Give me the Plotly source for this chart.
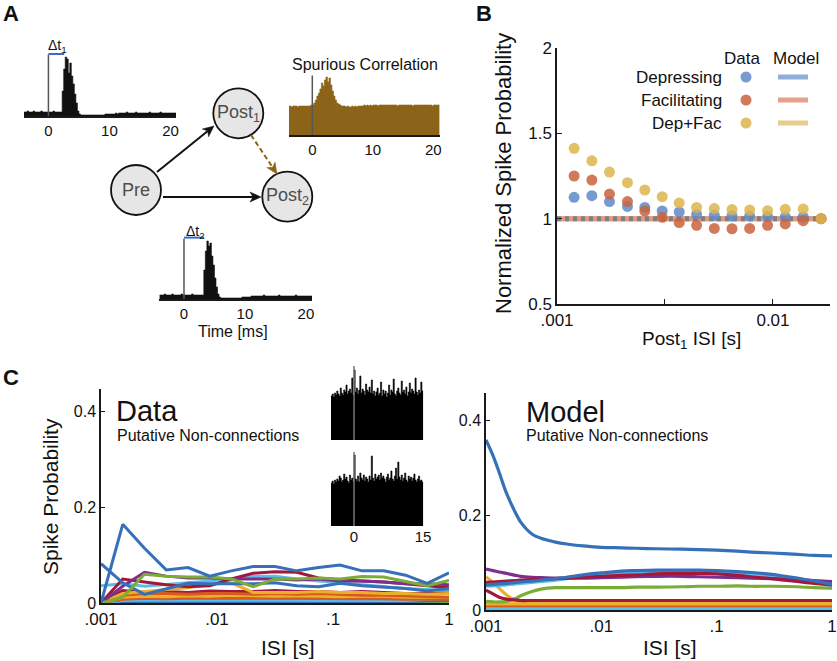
import math
import numpy as np
import plotly.graph_objects as go

W, H = 837, 661
FONT = "Liberation Sans, Arial, Helvetica, sans-serif"

# ---------------- Panel A: cross-correlograms (0.25 ms bins from -4 ms) ----------------
HIST_START_MS = -4.0
HIST_BIN_MS = 0.25
TIME_TICKS = [0, 10, 20]
HIST1_COUNTS = [4, 4, 5, 4, 4, 4, 5, 4, 4, 4, 4, 5, 4, 4, 4, 4,
                4, 4, 4, 5, 4, 4, 4, 4, 4,
                25, 47, 59, 57, 43, 53, 40, 32, 22, 13,
                5,
                2, 1, 1, 1, 1, 1, 1, 1, 1, 1, 1, 1, 1, 1, 1, 1, 1, 2, 2, 2,
                2, 2, 2, 2, 3, 2, 3, 3,
                3, 3, 3, 4, 3, 3, 3, 3, 3, 4, 3, 3, 3, 3, 3, 3, 3, 3, 4, 3,
                3, 3, 3, 3, 3, 4, 3, 3, 3, 3, 3, 3, 3, 3, 3, 3]
HIST2_COUNTS = [4, 4, 4, 5, 4, 4, 4, 4, 5, 4, 4, 4, 4, 4, 5, 4,
                4, 4, 4, 4, 4, 5, 4, 4, 4, 4, 4, 4, 4,
                29, 48, 58, 53, 56, 43, 34, 21, 12, 5,
                2, 1, 1, 1, 1, 1, 1, 1, 1, 1, 1, 1, 1, 1, 1, 2, 2,
                2, 2, 2, 2, 3, 3, 3, 3,
                3, 3, 3, 3, 4, 3, 3, 3, 3, 3, 3, 3, 3, 3, 4, 3, 3, 3,
                3, 3, 3, 3, 3, 3, 3, 4, 3, 3, 3, 3, 3, 3, 3, 3, 3, 3]
SPURIOUS_COUNTS = [29, 29, 28, 29, 29, 29, 28, 29, 29, 29, 29, 29, 29, 29, 29, 30,
                   30, 32,
                   35, 39, 42, 46, 52, 49, 55, 58, 53, 57, 50, 44, 39, 35, 32, 31,
                   30, 29, 29, 29, 28, 29, 28, 28, 29, 28, 29, 28, 29, 29,
                   29, 29, 30, 29, 30, 29, 30, 29, 30, 30, 30, 29, 30, 30, 30, 30,
                   30, 30, 30, 30, 30, 30, 30, 30, 29, 30, 30, 30, 30, 30, 30, 30,
                   30, 30, 29, 30, 30, 30, 30, 30, 30, 30, 30, 30, 30, 30, 30, 29,
                   30, 30, 30, 30]
DT1_MS = 2.6
DT2_MS = 3.3

# ---------------- Panel B ----------------
B_ISI = [0.0012, 0.00145, 0.00175, 0.00212, 0.00255, 0.00307, 0.00368, 0.00443,
         0.00535, 0.00646, 0.0078, 0.00944, 0.0114, 0.0138, 0.0167]
B_DEPRESSING = [1.125, 1.135, 1.100, 1.072, 1.066, 1.045, 1.039, 1.025, 1.020,
                1.016, 1.016, 1.012, 1.010, 1.010, 1.000]
B_FACILITATING = [1.250, 1.226, 1.144, 1.100, 1.045, 1.008, 0.977, 0.961, 0.943,
                  0.941, 0.943, 0.961, 0.969, 0.988, 1.000]
B_DEPFAC = [1.412, 1.339, 1.273, 1.211, 1.168, 1.129, 1.092, 1.066, 1.059, 1.053,
            1.051, 1.047, 1.055, 1.057, 1.000]
B_MODEL_ISI = [0.001, 0.0167]
B_MODEL_DEPRESSING = [1.0, 1.0]
B_MODEL_FACILITATING = [1.0, 1.0]
B_MODEL_DEPFAC = [1.0, 1.0]
B_XTICKS = [0.001, 0.00316, 0.01]
B_XTICKTEXT = [".001", " ", "0.01"]
B_YTICKS = [0.5, 1, 1.5, 2]

# ---------------- Panel C: data ----------------
C_ISI_DATA = [0.001, 0.00154, 0.00237, 0.00365, 0.00562, 0.00866, 0.0133, 0.0205, 0.0316,
              0.0487, 0.075, 0.115, 0.178, 0.274, 0.422, 0.649, 1.0]
D_BLUE_A = [0.0, 0.164, 0.114, 0.069, 0.074, 0.056, 0.067, 0.076, 0.076, 0.067, 0.074, 0.079, 0.067, 0.067, 0.058, 0.041, 0.063]
D_BLUE_B = [0.082, 0.042, 0.018, 0.030, 0.041, 0.040, 0.040, 0.040, 0.042, 0.036, 0.034, 0.041, 0.036, 0.033, 0.030, 0.025, 0.030]
D_GREEN_A = [0.0, 0.012, 0.060, 0.056, 0.054, 0.054, 0.050, 0.034, 0.050, 0.050, 0.052, 0.050, 0.055, 0.054, 0.045, 0.036, 0.047]
D_RED_A = [0.0, 0.050, 0.044, 0.038, 0.034, 0.036, 0.050, 0.062, 0.065, 0.064, 0.052, 0.048, 0.046, 0.044, 0.040, 0.036, 0.032]
D_PURPLE = [0.0, 0.035, 0.064, 0.056, 0.052, 0.052, 0.050, 0.050, 0.050, 0.048, 0.050, 0.046, 0.046, 0.044, 0.040, 0.040, 0.038]
D_LBLUE_A = [0.036, 0.040, 0.035, 0.038, 0.042, 0.046, 0.050, 0.055, 0.056, 0.050, 0.046, 0.042, 0.038, 0.034, 0.030, 0.028, 0.026]
D_YELLOW_A = [0.0, 0.020, 0.024, 0.028, 0.032, 0.039, 0.042, 0.022, 0.022, 0.022, 0.024, 0.022, 0.022, 0.020, 0.020, 0.018, 0.020]
D_ORANGE_A = [0.0, 0.016, 0.020, 0.020, 0.018, 0.020, 0.020, 0.018, 0.020, 0.018, 0.020, 0.018, 0.016, 0.016, 0.015, 0.014, 0.012]
D_RED_B = [0.0, 0.026, 0.022, 0.024, 0.022, 0.025, 0.024, 0.024, 0.026, 0.024, 0.024, 0.022, 0.024, 0.022, 0.020, 0.020, 0.022]
D_YELLOW_B = [0.0, 0.012, 0.014, 0.013, 0.015, 0.014, 0.016, 0.015, 0.014, 0.015, 0.014, 0.013, 0.014, 0.014, 0.012, 0.012, 0.012]
D_ORANGE_B = [0.0, 0.008, 0.010, 0.009, 0.010, 0.010, 0.009, 0.010, 0.010, 0.009, 0.010, 0.010, 0.009, 0.009, 0.008, 0.008, 0.008]
D_LBLUE_B = [0.0, 0.005, 0.006, 0.006, 0.005, 0.006, 0.006, 0.005, 0.006, 0.006, 0.005, 0.006, 0.006, 0.006, 0.005, 0.008, 0.010]
D_BLUE_C = [0.0, 0.003, 0.003, 0.002, 0.003, 0.003, 0.002, 0.003, 0.003, 0.002, 0.003, 0.003, 0.002, 0.003, 0.003, 0.004, 0.005]
D_GREEN_B = [0.0, 0.001, 0.001, 0.002, 0.001, 0.001, 0.001, 0.002, 0.001, 0.001, 0.001, 0.001, 0.002, 0.001, 0.001, 0.002, 0.002]

# inset correlograms (0.25 ms bins from -5 ms)
INSET_START_MS = -5.0
INSET_BIN_MS = 0.25
INSET_TICKS = [0, 15]
INSET_TOP = [44, 46, 43, 47, 45, 49, 46, 44, 52, 47, 45, 50, 48, 55, 46, 49, 51, 47, 62, 45,
             70, 48, 52, 46, 50, 64, 47, 51, 49, 45, 56, 50, 48, 53, 47, 60, 46, 49, 44, 48,
             52, 45, 47, 58, 44, 50, 46, 49, 43, 47, 55, 45, 50, 48, 61, 46, 44, 49, 52, 47,
             45, 59, 48, 50, 46, 53, 44, 48, 57, 47, 51, 49, 46, 62, 48, 45, 50, 47, 58, 49]
INSET_BOTTOM = [43, 45, 42, 46, 44, 47, 45, 50, 48, 44, 46, 52, 47, 49, 45, 43, 51, 46, 48, 44,
                71, 47, 45, 50, 44, 53, 48, 46, 51, 45, 49, 47, 44, 50, 46, 70, 48, 45, 52, 47,
                49, 51, 46, 53, 48, 50, 47, 44, 49, 52, 46, 48, 55, 47, 45, 50, 58, 47, 64, 49,
                46, 51, 45, 48, 53, 46, 44, 50, 47, 49, 45, 48, 52, 46, 44, 47, 50, 45, 46, 44]

# ---------------- Panel C: model ----------------
C_ISI_MODEL = [0.001, 0.00115, 0.0013, 0.0015, 0.0018, 0.002, 0.0025, 0.003, 0.004, 0.005, 0.007,
               0.01, 0.015, 0.02, 0.03, 0.05, 0.07, 0.1, 0.15, 0.2, 0.3, 0.5, 0.7, 1.0]
M_BLUE_A = [0.358, 0.325, 0.290, 0.247, 0.205, 0.185, 0.160, 0.151, 0.143, 0.139, 0.135, 0.132,
            0.131, 0.130, 0.129, 0.128, 0.127, 0.126, 0.124, 0.122, 0.120, 0.117, 0.115, 0.114]
M_BLUE_B = [0.053, 0.054, 0.055, 0.056, 0.058, 0.059, 0.061, 0.063, 0.066, 0.069, 0.074, 0.078,
            0.082, 0.083, 0.084, 0.084, 0.084, 0.083, 0.081, 0.079, 0.075, 0.067, 0.061, 0.054]
M_LBLUE_A = [0.050, 0.051, 0.052, 0.053, 0.055, 0.056, 0.058, 0.060, 0.063, 0.066, 0.071, 0.075,
             0.079, 0.080, 0.081, 0.081, 0.081, 0.080, 0.078, 0.076, 0.072, 0.064, 0.058, 0.051]
M_PURPLE = [0.086, 0.083, 0.080, 0.077, 0.073, 0.071, 0.069, 0.068, 0.067, 0.067, 0.067, 0.068,
            0.069, 0.070, 0.071, 0.071, 0.070, 0.069, 0.068, 0.067, 0.066, 0.064, 0.062, 0.060]
M_RED_A = [0.058, 0.059, 0.060, 0.061, 0.062, 0.063, 0.064, 0.065, 0.066, 0.067, 0.069, 0.071,
           0.073, 0.074, 0.076, 0.077, 0.077, 0.076, 0.073, 0.070, 0.066, 0.060, 0.056, 0.053]
M_RED_B = [0.042, 0.034, 0.027, 0.023, 0.021, 0.020, 0.020, 0.020, 0.020, 0.020, 0.020, 0.020,
           0.020, 0.020, 0.020, 0.020, 0.020, 0.020, 0.020, 0.020, 0.020, 0.020, 0.020, 0.020]
M_GREEN_A = [0.018, 0.017, 0.017, 0.018, 0.024, 0.030, 0.039, 0.044, 0.047, 0.047, 0.047, 0.047,
             0.047, 0.048, 0.048, 0.049, 0.050, 0.050, 0.051, 0.050, 0.050, 0.049, 0.047, 0.046]
M_YELLOW_A = [0.070, 0.058, 0.046, 0.032, 0.020, 0.017, 0.016, 0.016, 0.016, 0.016, 0.016, 0.016,
              0.016, 0.016, 0.016, 0.016, 0.016, 0.016, 0.016, 0.016, 0.016, 0.016, 0.016, 0.016]
M_YELLOW_B = [0.013, 0.013, 0.013, 0.013, 0.013, 0.013, 0.013, 0.013, 0.013, 0.013, 0.013, 0.013,
              0.013, 0.013, 0.013, 0.013, 0.013, 0.013, 0.013, 0.013, 0.013, 0.013, 0.013, 0.013]
M_ORANGE_A = [0.009, 0.009, 0.009, 0.009, 0.009, 0.009, 0.009, 0.009, 0.009, 0.009, 0.009, 0.009,
              0.009, 0.009, 0.009, 0.009, 0.009, 0.009, 0.009, 0.009, 0.009, 0.009, 0.009, 0.009]
M_LBLUE_B = [0.003, 0.003, 0.003, 0.003, 0.003, 0.003, 0.003, 0.003, 0.003, 0.003, 0.003, 0.003,
             0.003, 0.003, 0.003, 0.003, 0.003, 0.003, 0.003, 0.003, 0.003, 0.003, 0.003, 0.003]
M_GREEN_B = [0.001, 0.001, 0.001, 0.001, 0.001, 0.001, 0.001, 0.001, 0.001, 0.001, 0.001, 0.001,
             0.001, 0.001, 0.001, 0.001, 0.001, 0.001, 0.001, 0.001, 0.001, 0.001, 0.001, 0.001]
C_XTICKS = [0.001, 0.01, 0.1, 1]
C_XTICKTEXT = [".001", ".01", ".1", "1"]
C_YTICKS = [0, 0.2, 0.4]
C_YTICKTEXT = ["0", "0.2", "0.4"]

# ---------------- colours ----------------
BLUE = "#3570b8"
ORANGE = "#d95a1e"
YELLOW = "#e9b12a"
PURPLE = "#7e2f8e"
GREEN = "#79ad34"
LBLUE = "#5bbde8"
RED = "#a3173a"
BROWN = "#8c6419"
B_BLUE = "#5f89c8"
B_RED = "#c9633d"
B_GOLD = "#dcb54e"
AXC = "#1a1a1a"


def xd(a, b):
    return [a / W, b / W]


def yd(top, bottom):
    return [1 - bottom / H, 1 - top / H]


def px(x):
    return x / W


def py(y):
    return 1 - y / H


fig = go.Figure()


def step_hist(counts, start, binw, color, xa, ya):
    edges = start + binw * np.arange(len(counts) + 1)
    ys = list(counts) + [counts[-1]]
    fig.add_trace(go.Scatter(x=edges, y=ys, mode="lines", line=dict(shape="hv", color=color, width=0.6),
                             fill="tozeroy", fillcolor=color, xaxis=xa, yaxis=ya, hoverinfo="skip"))


# Panel A histograms
step_hist(HIST1_COUNTS, HIST_START_MS, HIST_BIN_MS, "#111111", "x", "y")
step_hist(HIST2_COUNTS, HIST_START_MS, HIST_BIN_MS, "#111111", "x2", "y2")
step_hist(SPURIOUS_COUNTS, HIST_START_MS, HIST_BIN_MS, BROWN, "x3", "y3")

# Panel B
fig.add_trace(go.Scatter(x=B_MODEL_ISI, y=B_MODEL_DEPFAC, mode="lines",
                         line=dict(color="rgba(226,160,130,0.9)", width=5), xaxis="x4", yaxis="y4"))
fig.add_trace(go.Scatter(x=B_MODEL_ISI, y=B_MODEL_FACILITATING, mode="lines",
                         line=dict(color="rgba(222,150,125,0.9)", width=5), xaxis="x4", yaxis="y4"))
fig.add_trace(go.Scatter(x=B_MODEL_ISI, y=B_MODEL_DEPRESSING, mode="lines",
                         line=dict(color="#7f7f7f", width=5, dash="4px,4px"), xaxis="x4", yaxis="y4"))
for vals, col in [(B_DEPRESSING, B_BLUE), (B_FACILITATING, B_RED), (B_DEPFAC, B_GOLD)]:
    fig.add_trace(go.Scatter(x=B_ISI, y=vals, mode="markers",
                             marker=dict(color=col, size=11, opacity=0.85, line=dict(width=0)),
                             xaxis="x4", yaxis="y4"))

# Panel C data
data_lines = [(D_GREEN_B, GREEN), (D_BLUE_C, BLUE), (D_LBLUE_B, LBLUE), (D_ORANGE_B, ORANGE),
              (D_YELLOW_B, YELLOW), (D_RED_B, RED), (D_ORANGE_A, ORANGE), (D_YELLOW_A, YELLOW),
              (D_LBLUE_A, LBLUE), (D_RED_A, RED), (D_PURPLE, PURPLE), (D_BLUE_B, BLUE),
              (D_GREEN_A, GREEN), (D_BLUE_A, BLUE)]
for vals, col in data_lines:
    fig.add_trace(go.Scatter(x=C_ISI_DATA, y=vals, mode="lines", line=dict(color=col, width=3),
                             xaxis="x5", yaxis="y5"))

# Panel C model
model_lines = [(M_GREEN_B, GREEN), (M_LBLUE_B, LBLUE), (M_ORANGE_A, ORANGE), (M_YELLOW_B, YELLOW),
               (M_YELLOW_A, YELLOW), (M_GREEN_A, GREEN), (M_RED_B, RED), (M_LBLUE_A, LBLUE),
               (M_PURPLE, PURPLE), (M_RED_A, RED), (M_BLUE_B, BLUE), (M_BLUE_A, BLUE)]
for vals, col in model_lines:
    fig.add_trace(go.Scatter(x=C_ISI_MODEL, y=vals, mode="lines",
                             line=dict(color=col, width=3.2, shape="spline", smoothing=0.8),
                             xaxis="x6", yaxis="y6"))

# insets
step_hist(INSET_TOP, INSET_START_MS, INSET_BIN_MS, "#000000", "x7", "y7")
step_hist(INSET_BOTTOM, INSET_START_MS, INSET_BIN_MS, "#000000", "x8", "y8")

# ---------------- axes ----------------
hide = dict(visible=False, showgrid=False, zeroline=False, automargin=False)


def hist_x(dom, rng, show_labels=True):
    return dict(domain=xd(*dom), range=rng, showline=True, linecolor=AXC, linewidth=1.5,
                ticks="", tickvals=TIME_TICKS, showticklabels=show_labels, automargin=False,
                tickfont=dict(size=15, color="#111"), showgrid=False, zeroline=False)


def axis(**kw):
    base = dict(showgrid=False, zeroline=False, automargin=False, linecolor=AXC, linewidth=1.5,
                tickcolor=AXC)
    base.update(kw)
    return base


layout = dict(
    width=W, height=H, margin=dict(l=0, r=0, t=0, b=0, pad=0, autoexpand=False), showlegend=False,
    paper_bgcolor="white", plot_bgcolor="rgba(0,0,0,0)",
    font=dict(family=FONT, color="#111"),
    xaxis=dict(**hist_x((24, 176), [-4.0, 20.9]), anchor="y"),
    yaxis=dict(domain=yd(54, 116), range=[0, 62], anchor="x", **hide),
    xaxis2=dict(**hist_x((159, 312), [-4.1, 21.0]), anchor="y2"),
    yaxis2=dict(domain=yd(237, 299), range=[0, 62], anchor="x2", **hide),
    xaxis3=dict(**hist_x((289, 440), [-3.85, 21.1]), anchor="y3"),
    yaxis3=dict(domain=yd(73, 135), range=[0, 62], anchor="x3", **hide),
    xaxis4=axis(domain=xd(557, 830), type="log", range=[-3, -1.736], anchor="y4",
                showline=True, ticks="inside", ticklen=5, tickvals=B_XTICKS, ticktext=B_XTICKTEXT,
                tickfont=dict(size=17)),
    yaxis4=axis(domain=yd(48, 304), range=[0.5, 2], anchor="x4", showline=True,
                ticks="inside", ticklen=5, tickvals=B_YTICKS, tickfont=dict(size=17)),
    xaxis5=axis(domain=xd(101, 449), type="log", range=[-3, 0], anchor="y5", showline=True,
                ticks="", tickvals=C_XTICKS, ticktext=C_XTICKTEXT, tickfont=dict(size=17)),
    yaxis5=axis(domain=yd(389, 603), range=[0, 0.446], anchor="x5", showline=True,
                ticks="inside", ticklen=4, tickvals=C_YTICKS, ticktext=C_YTICKTEXT,
                tickfont=dict(size=16)),
    xaxis6=axis(domain=xd(486, 832), type="log", range=[-3, 0], anchor="y6", showline=True,
                ticks="", tickvals=C_XTICKS, ticktext=C_XTICKTEXT, tickfont=dict(size=17)),
    yaxis6=axis(domain=yd(393, 610), range=[0, 0.457], anchor="x6", showline=True,
                ticks="inside", ticklen=4, tickvals=C_YTICKS, ticktext=C_YTICKTEXT,
                tickfont=dict(size=16)),
    xaxis7=dict(domain=xd(331, 424), range=[-5, 15.2], anchor="y7", **hide),
    yaxis7=dict(domain=yd(366, 440), range=[0, 74], anchor="x7", **hide),
    xaxis8=axis(domain=xd(331, 424), range=[-5, 15.2], anchor="y8", showline=False, ticks="",
                tickvals=INSET_TICKS, tickfont=dict(size=15)),
    yaxis8=dict(domain=yd(452, 526), range=[0, 74], anchor="x8", **hide),
)
fig.update_layout(**layout)

shapes = []
# zero-time reference lines
for xa, ya, top in [("x", "y", 0.99), ("x2", "y2", 0.97), ("x3", "y3", 0.96),
                    ("x7", "y7", 1.0), ("x8", "y8", 1.0)]:
    shapes.append(dict(type="line", xref=xa, yref=ya + " domain", x0=0, x1=0, y0=0, y1=top,
                       line=dict(color="#777777" if xa in ("x7", "x8") else "#555555", width=1.5)))
# latency bars
shapes.append(dict(type="line", xref="x", yref="y domain", x0=0, x1=DT1_MS, y0=1.0, y1=1.0,
                   line=dict(color="#3a6cc0", width=2)))
shapes.append(dict(type="line", xref="x2", yref="y2 domain", x0=0, x1=DT2_MS, y0=0.99, y1=0.99,
                   line=dict(color="#3a6cc0", width=2)))

# network diagram
NODES = {"Pre": (136, 190), "Post1": (238.3, 113.3), "Post2": (287.3, 196.7)}
R = 25
for cx, cy in NODES.values():
    shapes.append(dict(type="circle", xref="paper", yref="paper", x0=px(cx - R), x1=px(cx + R),
                       y0=py(cy + R), y1=py(cy - R), fillcolor="#e6e6e6",
                       line=dict(color="#111", width=1.8), layer="above"))


def arrow(x0, y0, x1, y1, color, dash="solid", head=11, half=5):
    L = math.hypot(x1 - x0, y1 - y0)
    ux, uy = (x1 - x0) / L, (y1 - y0) / L
    bx, by = x1 - ux * head, y1 - uy * head
    nx, ny = -uy, ux
    shapes.append(dict(type="line", xref="paper", yref="paper", x0=px(x0), y0=py(y0),
                       x1=px(bx + ux * 3), y1=py(by + uy * 3), line=dict(color=color, width=2, dash=dash)))
    pts = [(x1, y1), (bx + nx * half, by + ny * half), (bx + ux * 3, by + uy * 3),
           (bx - nx * half, by - ny * half)]
    path = "M " + " L ".join(f"{px(a):.5f},{py(b):.5f}" for a, b in pts) + " Z"
    shapes.append(dict(type="path", xref="paper", yref="paper", path=path, fillcolor=color,
                       line=dict(color=color, width=0.5)))


arrow(157, 172, 214, 126, "#111")
arrow(163, 197, 261, 197, "#111")
arrow(251, 135, 277, 174, BROWN, dash="5px,3px")

# Panel B legend swatches
LEG_ROWS = [(77, B_BLUE, "rgba(125,160,210,0.85)"), (100, B_RED, "rgba(225,145,120,0.85)"),
            (123, B_GOLD, "rgba(230,200,125,0.9)")]
for yy, dot, ln in LEG_ROWS:
    shapes.append(dict(type="circle", xref="paper", yref="paper", x0=px(746 - 5.5), x1=px(746 + 5.5),
                       y0=py(yy + 5.5), y1=py(yy - 5.5), fillcolor=dot, opacity=0.85, line=dict(width=0)))
    shapes.append(dict(type="line", xref="paper", yref="paper", x0=px(778), x1=px(808), y0=py(yy), y1=py(yy),
                       line=dict(color=ln, width=5)))
fig.update_layout(shapes=shapes)

ann = []


def text(x, y, s, size, anchor="center", color="#111", bold=False, angle=0):
    ann.append(dict(x=px(x), y=py(y), xref="paper", yref="paper", text=f"<b>{s}</b>" if bold else s,
                    showarrow=False, xanchor=anchor, yanchor="middle", textangle=angle,
                    font=dict(size=size, color=color, family=FONT)))


text(11, 14, "A", 22, bold=True)
text(484, 14, "B", 22, bold=True)
text(11, 377, "C", 22, bold=True)
text(57, 46, "Δt<sub>1</sub>", 14)
text(195, 232, "Δt<sub>2</sub>", 14)
text(233, 331, "Time [ms]", 16)
text(365, 65, "Spurious Correlation", 16)
text(136, 190, "Pre", 18, color="#4d4d4d")
text(238.3, 113.3, "Post<sub>1</sub>", 18, color="#4d4d4d")
text(287.3, 196.7, "Post<sub>2</sub>", 18, color="#4d4d4d")
text(503, 174, "Normalized Spike Probability", 22, angle=-90)
text(691, 340, "Post<sub>1</sub> ISI [s]", 19)
text(742, 59, "Data", 17)
text(796, 59, "Model", 17)
text(724, 77, "Depressing", 17, anchor="right")
text(724, 100, "Facilitating", 17, anchor="right")
text(724, 123, "Dep+Fac", 17, anchor="right")
text(50, 497, "Spike Probability", 21, angle=-90)
text(288, 647, "ISI [s]", 21)
text(670, 647, "ISI [s]", 21)
text(114, 411, "Data", 29, anchor="left")
text(115, 435, "Putative Non-connections", 16, anchor="left")
text(524, 412, "Model", 29, anchor="left")
text(524, 435, "Putative Non-connections", 16, anchor="left")
fig.update_layout(annotations=ann)

fig.write_html("out.html", config={"displayModeBar": False},
               post_script="document.body.style.margin='0';document.body.style.overflow='hidden';")
